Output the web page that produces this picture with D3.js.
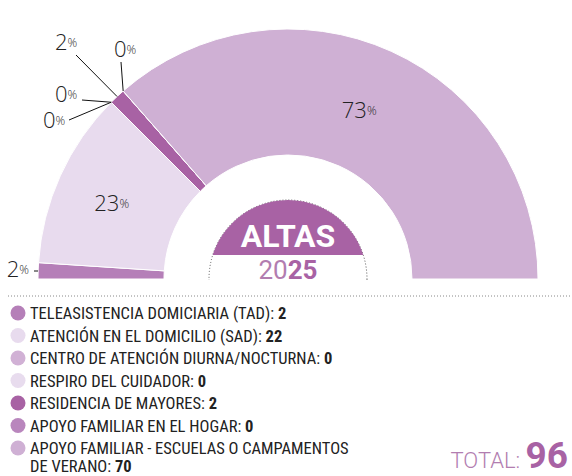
<!DOCTYPE html>
<html>
<head>
<meta charset="utf-8">
<script src="https://cdn.jsdelivr.net/npm/d3@7"></script>
<style>
  body { margin: 0; background: #fff; }
  svg { display: block; }
</style>
</head>
<body>
<svg id="chart" width="572" height="476"></svg>
<script>
const categories = [
  'TELEASISTENCIA DOMICIARIA (TAD)',
  'ATENCIÓN EN EL DOMICILIO (SAD)',
  'CENTRO DE ATENCIÓN DIURNA/NOCTURNA',
  'RESPIRO DEL CUIDADOR',
  'RESIDENCIA DE MAYORES',
  'APOYO FAMILIAR EN EL HOGAR',
  'APOYO FAMILIAR - ESCUELAS O CAMPAMENTOS DE VERANO',
];
const values = [2, 22, 0, 0, 2, 0, 70];
const percents = ['2', '23', '0', '0', '2', '0', '73'];
const colors = ['#b57fb8', '#e8dbee', '#d1b1d5', '#e8dcee', '#a862a4', '#b986bd', '#cfb0d4'];
const title = 'ALTAS';
const yearLight = '20';
const yearBold = '25';

const svg = d3.select('#chart');
const cx = 288, cy = 279;
const outerR = 250, innerR = 124;
const fontMain = "'Liberation Sans Narrow', 'Roboto Condensed', 'DejaVu Sans Condensed', Roboto, sans-serif";
const fontNum = "'Open Sans', Roboto, sans-serif";

const pie = d3.pie()
  .sort(null)
  .value((d) => d)
  .startAngle(-Math.PI / 2)
  .endAngle(Math.PI / 2);

const arcs = pie(values);
const arc = d3.arc().innerRadius(innerR).outerRadius(outerR);

const g = svg.append('g').attr('transform', `translate(${cx},${cy})`);

g.selectAll('path.slice')
  .data(arcs)
  .join('path')
  .attr('class', 'slice')
  .attr('d', arc)
  .attr('fill', (d, i) => colors[i])
  .attr('stroke', '#fff')
  .attr('stroke-width', 1);

// point on outer edge at a given angle
function outerPoint(angle) {
  return [outerR * Math.sin(angle), -outerR * Math.cos(angle)];
}

function pctLabel(sel, x, y, txt, anchor) {
  const t = sel.append('text')
    .attr('x', x)
    .attr('y', y)
    .attr('text-anchor', anchor || 'middle')
    .attr('dominant-baseline', 'middle')
    .attr('font-family', fontNum)
    .attr('font-weight', 300)
    .attr('fill', '#222');
  t.append('tspan').attr('font-size', 22).text(txt);
  t.append('tspan').attr('font-size', 12).text('%');
  return t;
}

// big slices: label at centroid
arcs.forEach((a, i) => {
  if (values[i] > 10) {
    const c = arc.centroid(a);
    pctLabel(g, c[0] - 6, c[1] + 3, percents[i]);
  }
});

// small slices: labels with leader lines (label offsets from center)
const smallLabels = [
  { i: 0, lx: -259, ly: -8, anchor: 'end', lineFrom: [-254, -8], edge: 'start' },
  { i: 4, lx: -222, ly: -235, anchor: 'middle', lineFrom: [-212, -224], edge: 'mid' },
  { i: 5, lx: -163, ly: -228, anchor: 'middle', lineFrom: [-167, -217], edge: 'mid' },
  { i: 2, lx: -222, ly: -183, anchor: 'middle', lineFrom: [-206, -179], edge: 'mid' },
  { i: 3, lx: -234, ly: -157, anchor: 'middle', lineFrom: [-219, -159], edge: 'mid' },
];

smallLabels.forEach((s) => {
  const a = arcs[s.i];
  let target;
  if (s.edge === 'start') {
    target = [-outerR, s.ly];
  } else {
    target = outerPoint((a.startAngle + a.endAngle) / 2);
  }
  g.append('line')
    .attr('x1', s.lineFrom[0])
    .attr('y1', s.lineFrom[1])
    .attr('x2', target[0])
    .attr('y2', target[1])
    .attr('stroke', '#111')
    .attr('stroke-width', 1);
  pctLabel(g, s.lx, s.ly, percents[s.i], s.anchor);
});

// center badge
const badgeR = 79;
const badgeSplit = -24;
const defs = svg.append('defs');
defs.append('clipPath').attr('id', 'clipTop')
  .append('rect').attr('x', -badgeR - 2).attr('y', -badgeR - 2)
  .attr('width', badgeR * 2 + 4).attr('height', badgeR + 2 + badgeSplit);
defs.append('clipPath').attr('id', 'clipHalf')
  .append('rect').attr('x', -badgeR - 2).attr('y', -badgeR - 2)
  .attr('width', badgeR * 2 + 4).attr('height', badgeR + 3);

g.append('circle')
  .attr('r', badgeR)
  .attr('fill', '#fff')
  .attr('stroke', '#555')
  .attr('stroke-width', 1)
  .attr('stroke-dasharray', '1,2')
  .attr('clip-path', 'url(#clipHalf)');

g.append('circle')
  .attr('r', badgeR)
  .attr('fill', '#a862a4')
  .attr('clip-path', 'url(#clipTop)');

g.append('text')
  .attr('x', 0)
  .attr('y', -32)
  .attr('text-anchor', 'middle')
  .attr('font-family', 'Roboto, sans-serif')
  .attr('font-weight', 700)
  .attr('font-size', 32)
  .attr('fill', '#fff')
  .text(title);

const yr = g.append('text')
  .attr('x', 0)
  .attr('y', 0)
  .attr('text-anchor', 'middle')
  .attr('font-family', 'Roboto, sans-serif')
  .attr('font-size', 26)
  .attr('fill', '#a862a4');
yr.append('tspan').attr('font-weight', 400).attr('fill', '#b27db0').text(yearLight);
yr.append('tspan').attr('font-weight', 700).text(yearBold);

// legend
svg.append('line')
  .attr('x1', 8).attr('x2', 570)
  .attr('y1', 296).attr('y2', 296)
  .attr('stroke', '#888')
  .attr('stroke-dasharray', '1,2');

const rowY = d3.scaleLinear().domain([0, 1]).range([313, 335.5]);
const legend = svg.append('g');
categories.forEach((c, i) => {
  const y = rowY(i);
  legend.append('circle')
    .attr('cx', 18).attr('cy', y).attr('r', 7.5)
    .attr('fill', colors[i]);
  const t = legend.append('text')
    .attr('x', 30)
    .attr('y', y + 6)
    .attr('font-family', fontMain)
    .attr('font-size', 16.5)
    .attr('fill', '#222');
  if (i === categories.length - 1) {
    t.append('tspan').text('APOYO FAMILIAR - ESCUELAS O CAMPAMENTOS');
    const t2 = legend.append('text')
      .attr('x', 30).attr('y', y + 24)
      .attr('font-family', fontMain)
      .attr('font-size', 16.5)
      .attr('fill', '#222');
    t2.append('tspan').text('DE VERANO: ');
    t2.append('tspan').attr('font-weight', 700).text(values[i]);
  } else {
    t.append('tspan').text(c + ': ');
    t.append('tspan').attr('font-weight', 700).text(values[i]);
  }
});

// total
const total = d3.sum(values);
const tt = svg.append('text')
  .attr('x', 568)
  .attr('y', 468)
  .attr('text-anchor', 'end')
  .attr('font-family', 'Roboto, sans-serif')
  .attr('fill', '#a862a4');
tt.append('tspan').attr('font-size', 22).attr('font-weight', 300).attr('fill', '#b27db0').text('TOTAL: ');
tt.append('tspan').attr('font-size', 37).attr('font-weight', 700).text(total);
</script>
</body>
</html>
